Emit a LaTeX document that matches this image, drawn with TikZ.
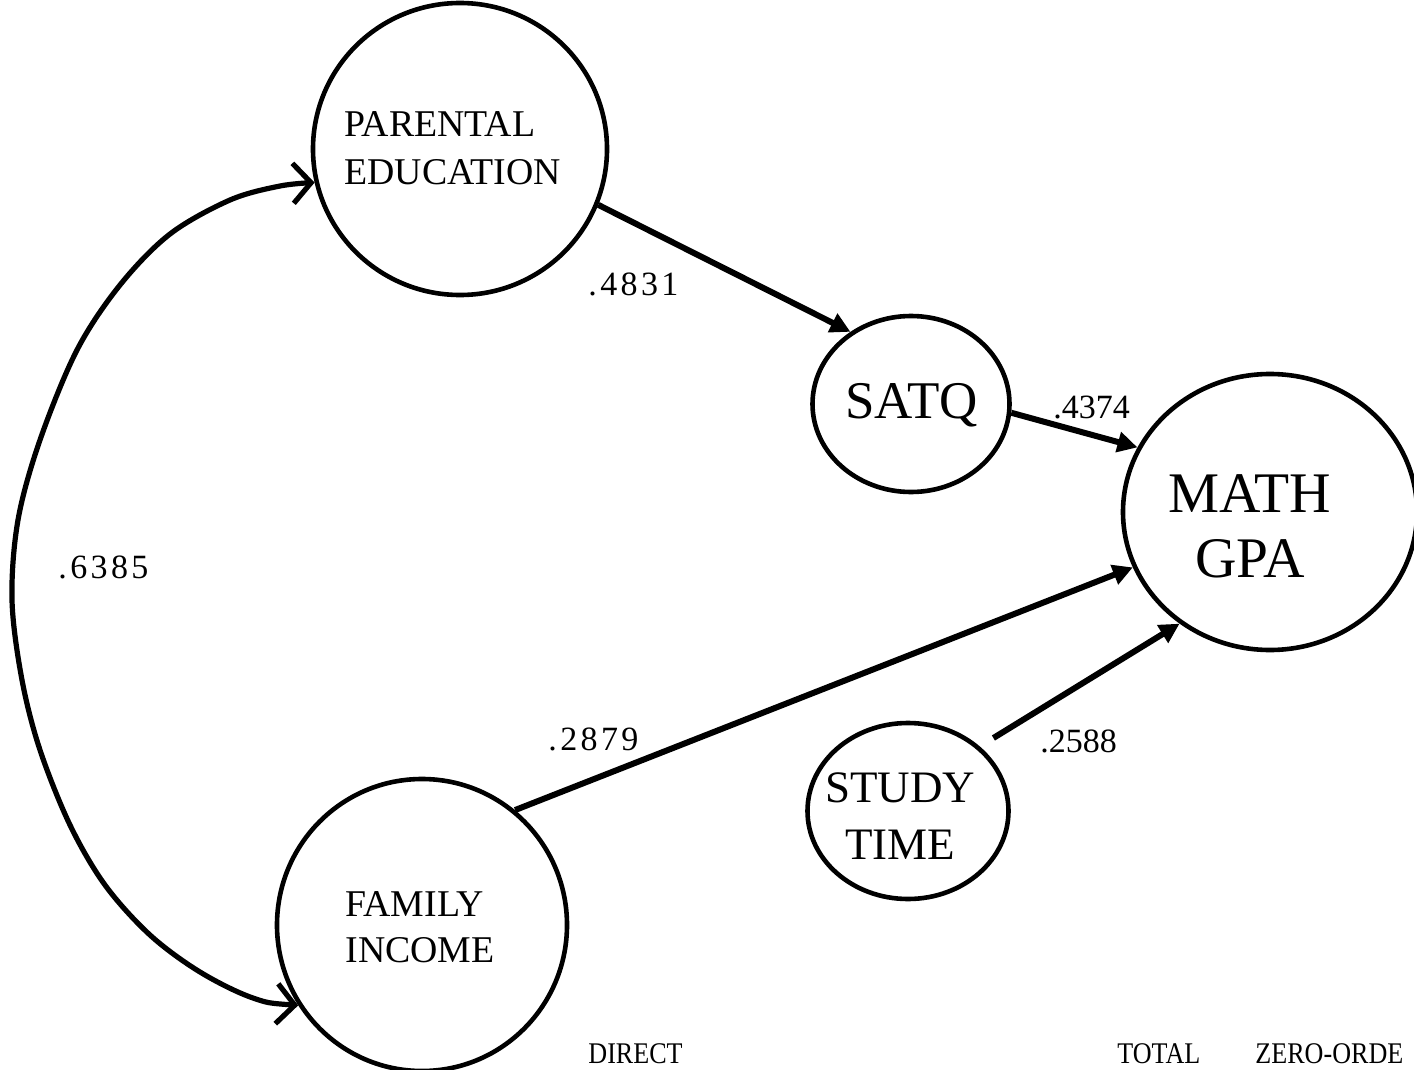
\documentclass[tikz,border=0pt]{standalone}
\usepackage{fontspec}
\setmainfont{Liberation Serif}
\newfontfamily\condfont[FakeStretch=0.87]{Liberation Serif}
\newfontfamily\spacedfont[LetterSpace=10]{Liberation Serif}
\usetikzlibrary{arrows.meta,shapes.geometric}
\begin{document}
\begin{tikzpicture}[x=0.5pt,y=-0.5pt,
  var/.style={ellipse, draw, line width=2.3pt, inner sep=0pt},
  pathar/.style={line width=3pt, -{Triangle[length=10pt,width=10pt]}},
  corr/.style={line width=2.6pt, {Straight Barb[length=9pt,width=20pt]}-{Straight Barb[length=9pt,width=20pt]}},
  txt/.style={inner sep=0pt},
  num/.style={inner sep=0pt, anchor=base west, font=\fontsize{17}{20}\selectfont},
  snum/.style={num, font=\fontsize{17}{20}\spacedfont},
  foot/.style={inner sep=0pt, anchor=base west, font=\fontsize{15}{18}\condfont}]
\useasboundingbox (0,0) rectangle (1414,1070);
% variables
\node[var, minimum width=147pt, minimum height=146pt] (pe) at (460,149) {};
\node[var, minimum width=98.5pt, minimum height=88pt] (sq) at (911,404) {};
\node[var, minimum width=147pt, minimum height=138pt] (mg) at (1270,512) {};
\node[var, minimum width=100.5pt, minimum height=88pt] (st) at (908,811) {};
\node[var, minimum width=145pt, minimum height=146pt] (fi) at (422,925) {};
% labels inside
\node[txt, align=left, font=\fontsize{18.9}{24}\selectfont] (pet) at (452.5,148.5) {PARENTAL\\EDUCATION};
\node[txt, align=left, font=\fontsize{18.9}{23}\selectfont] (fit) at (420,927) {FAMILY\\INCOME};
\node[txt, align=center, font=\fontsize{22.5}{28.5}\selectfont] (stt) at (900,816.5) {STUDY\\TIME};
\node[txt, align=center, font=\fontsize{28.7}{32.5}\selectfont] (mgt) at (1250,526.5) {MATH\\GPA};
\node[txt, anchor=base, font=\fontsize{26.5}{30}\selectfont] (sqt) at (911.5,418) {SATQ};
% paths
\draw[pathar] (pe.-22) -- (sq.130);
\draw[pathar] (sq.-5) -- (mg.154);
\draw[pathar] (fi.51) -- (mg.202);
\draw[pathar, shorten <=8pt] (st.42) -- (mg.231);
% correlation
\coordinate (mid) at (12,600);
\draw[corr] plot[smooth, tension=0.55] coordinates {(fi.213) (253,998) (200,972) (150,935) (105,885) (70,825) (40,750) (22,680) (mid) (18,520) (40,440) (77,350) (120,285) (170,234) (230,200) (280,186) (pe.193)};
% coefficients
\node[snum] (c1) at (588,295) {.4831};
\node[num] (c2) at (1053,418) {.4374};
\node[snum] (c3) at (58,578) {.6385};
\node[snum] (c4) at (548,750) {.2879};
\node[num] (c5) at (1040,752) {.2588};
% footer
\node[foot] (f1) at (588,1063) {DIRECT};
\node[foot] (f2) at (1117,1063) {TOTAL};
\node[foot] (f3) at (1255,1063) {ZERO-ORDE};
\end{tikzpicture}
\end{document}
